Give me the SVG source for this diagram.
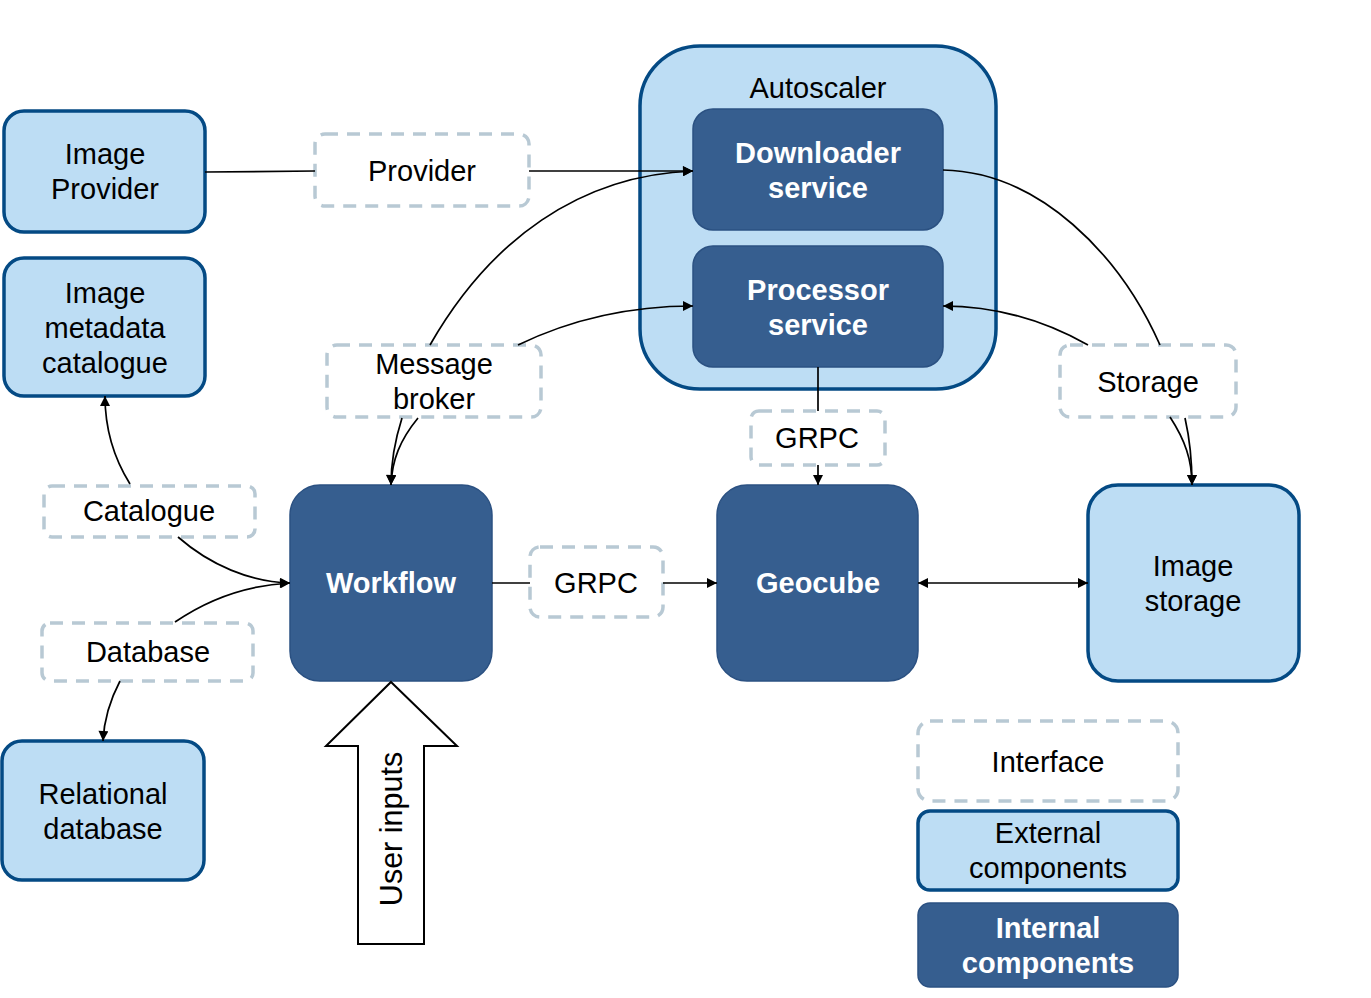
<svg xmlns="http://www.w3.org/2000/svg" width="1371" height="998" viewBox="0 0 1371 998">
<defs>
<style>
.ext{fill:#BDDDF4;stroke:#044A84;stroke-width:3.5}
.int{fill:#365E8F;stroke:#2B5182;stroke-width:1.5}
.ifc{fill:#FFFFFF;stroke:#B8C9D4;stroke-width:3.5;stroke-dasharray:13 9}
.t{font-family:"Liberation Sans",Arial,sans-serif;font-size:29px;fill:#000;text-anchor:middle}
.tb{font-family:"Liberation Sans",Arial,sans-serif;font-size:29px;font-weight:bold;fill:#FFF;text-anchor:middle}
.c{fill:none;stroke:#000;stroke-width:1.7}
</style>
<marker id="ah" viewBox="0 0 10 10" refX="10" refY="5" markerWidth="11" markerHeight="10" markerUnits="userSpaceOnUse" orient="auto-start-reverse">
<path d="M0,0 L10,5 L0,10 Z" fill="#000"/>
</marker>
</defs>
<rect width="1371" height="998" fill="#FFFFFF"/>

<g id="autoscaler">
<rect class="ext" x="640" y="46" width="356" height="343" rx="60"/>
<text class="t" x="818" y="98">Autoscaler</text>
</g>
<g id="downloader">
<rect class="int" x="693" y="109" width="250" height="121" rx="20"/>
<text class="tb" x="818" y="163">Downloader</text>
<text class="tb" x="818" y="198">service</text>
</g>
<g id="processor">
<rect class="int" x="693" y="246" width="250" height="121" rx="20"/>
<text class="tb" x="818" y="300">Processor</text>
<text class="tb" x="818" y="335">service</text>
</g>

<g id="image-provider">
<rect class="ext" x="4" y="111" width="201" height="121" rx="20"/>
<text class="t" x="105" y="164">Image</text>
<text class="t" x="105" y="199">Provider</text>
</g>
<g id="image-metadata-catalogue">
<rect class="ext" x="4" y="258" width="201" height="138" rx="20"/>
<text class="t" x="105" y="303">Image</text>
<text class="t" x="105" y="338">metadata</text>
<text class="t" x="105" y="373">catalogue</text>
</g>
<g id="relational-database">
<rect class="ext" x="2" y="741" width="202" height="139" rx="20"/>
<text class="t" x="103" y="804">Relational</text>
<text class="t" x="103" y="839">database</text>
</g>
<g id="image-storage">
<rect class="ext" x="1088" y="485" width="211" height="196" rx="30"/>
<text class="t" x="1193" y="576">Image</text>
<text class="t" x="1193" y="611">storage</text>
</g>

<g id="workflow">
<rect class="int" x="290" y="485" width="202" height="196" rx="30"/>
<text class="tb" x="391" y="593">Workflow</text>
</g>
<g id="geocube">
<rect class="int" x="717" y="485" width="201" height="196" rx="30"/>
<text class="tb" x="818" y="593">Geocube</text>
</g>

<g id="provider-if">
<rect class="ifc" x="315" y="134" width="214" height="72" rx="10"/>
<text class="t" x="422" y="181">Provider</text>
</g>
<g id="message-broker-if">
<rect class="ifc" x="327" y="345" width="214" height="72" rx="10"/>
<text class="t" x="434" y="374">Message</text>
<text class="t" x="434" y="409">broker</text>
</g>
<g id="catalogue-if">
<rect class="ifc" x="44" y="486" width="211" height="51" rx="8"/>
<text class="t" x="149" y="521">Catalogue</text>
</g>
<g id="database-if">
<rect class="ifc" x="42" y="623" width="211" height="58" rx="8"/>
<text class="t" x="148" y="662">Database</text>
</g>
<g id="grpc-mid-if">
<rect class="ifc" x="530" y="547" width="133" height="70" rx="10"/>
<text class="t" x="596" y="593">GRPC</text>
</g>
<g id="grpc-top-if">
<rect class="ifc" x="751" y="411" width="134" height="54" rx="8"/>
<text class="t" x="817" y="448">GRPC</text>
</g>
<g id="storage-if">
<rect class="ifc" x="1060" y="345" width="176" height="72" rx="10"/>
<text class="t" x="1148" y="392">Storage</text>
</g>

<g id="user-inputs">
<path d="M391,682 L457,746 L424,746 L424,944 L358,944 L358,746 L326,746 Z" fill="#FFFFFF" stroke="#000" stroke-width="2"/>
<text class="t" style="font-size:30.5px" transform="translate(402,829) rotate(-90)">User inputs</text>
</g>

<g id="legend">
<g id="legend-interface">
<rect class="ifc" x="918" y="721" width="260" height="80" rx="12"/>
<text class="t" x="1048" y="772">Interface</text>
</g>
<g id="legend-external">
<rect class="ext" x="918" y="811" width="260" height="79" rx="12"/>
<text class="t" x="1048" y="843">External</text>
<text class="t" x="1048" y="878">components</text>
</g>
<g id="legend-internal">
<rect class="int" x="918" y="903" width="260" height="84" rx="12"/>
<text class="tb" x="1048" y="938">Internal</text>
<text class="tb" x="1048" y="973">components</text>
</g>
</g>

<g id="connectors">
<path class="c" d="M205,172 L315,171"/>
<path class="c" d="M529,171 L693,171" marker-end="url(#ah)"/>
<path class="c" d="M430,345 C490,240 580,175 693,171" marker-end="url(#ah)"/>
<path class="c" d="M518,345 C580,315 640,306 693,306" marker-end="url(#ah)"/>
<path class="c" d="M402,418 C395,440 391,460 391,485" marker-end="url(#ah)"/>
<path class="c" d="M418,418 C400,440 392,460 391,485" marker-end="url(#ah)"/>
<path class="c" d="M818,367 L818,411"/>
<path class="c" d="M818,465 L818,485" marker-end="url(#ah)"/>
<path class="c" d="M943,170 C1040,172 1120,255 1160,345"/>
<path class="c" d="M1088,345 C1040,318 990,306 943,306" marker-end="url(#ah)"/>
<path class="c" d="M1170,417 C1185,440 1192,460 1192,485" marker-end="url(#ah)"/>
<path class="c" d="M1185,418 C1190,440 1192,460 1192,485" marker-end="url(#ah)"/>
<path class="c" d="M130,484 C115,460 105,430 105,396" marker-end="url(#ah)"/>
<path class="c" d="M178,537 C210,565 250,582 290,583" marker-end="url(#ah)"/>
<path class="c" d="M175,622 C210,598 250,585 290,583" marker-end="url(#ah)"/>
<path class="c" d="M120,681 C110,700 104,720 103,741" marker-end="url(#ah)"/>
<path class="c" d="M492,583 L530,583"/>
<path class="c" d="M663,583 L717,583" marker-end="url(#ah)"/>
<path class="c" d="M918,583 L1088,583" marker-start="url(#ah)" marker-end="url(#ah)"/>
</g>
</svg>
